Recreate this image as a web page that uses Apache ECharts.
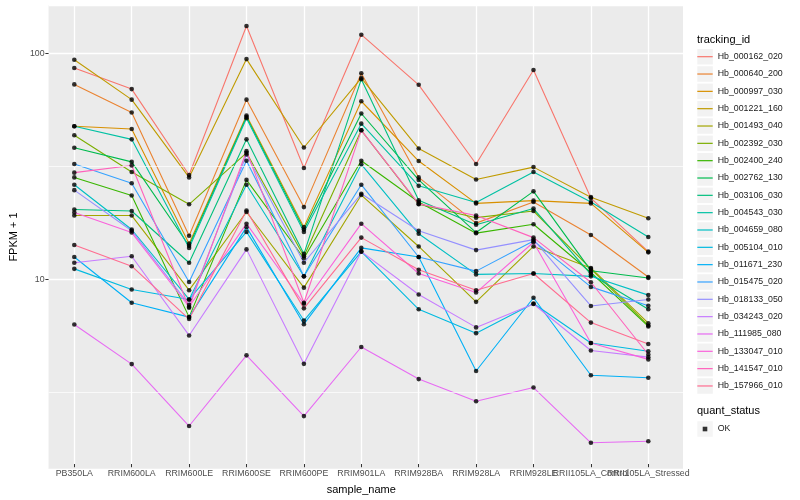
<!DOCTYPE html>
<html><head><meta charset="utf-8">
<script src="https://cdn.jsdelivr.net/npm/echarts@6/dist/echarts.min.js"></script>
<style>html,body{margin:0;padding:0;background:#fff}#c{width:800px;height:500px}</style>
</head><body><div id="c"></div>
<script>
const categories = ['PB350LA','RRIM600LA','RRIM600LE','RRIM600SE','RRIM600PE','RRIM901LA','RRIM928BA','RRIM928LA','RRIM928LE','RRII105LA_Control','RRII105LA_Stressed'];
const trackingIds = ['Hb_000162_020','Hb_000640_200','Hb_000997_030','Hb_001221_160','Hb_001493_040','Hb_002392_030','Hb_002400_240','Hb_002762_130','Hb_003106_030','Hb_004543_030','Hb_004659_080','Hb_005104_010','Hb_011671_230','Hb_015475_020','Hb_018133_050','Hb_034243_020','Hb_111985_080','Hb_133047_010','Hb_141547_010','Hb_157966_010'];
const colors = ['#F8766D','#EA8331','#D89000','#C09B00','#A3A500','#7CAE00','#39B600','#00BB4E','#00BF7D','#00C1A3','#00BFC4','#00BAE0','#00B0F6','#35A2FF','#9590FF','#C77CFF','#E76BF3','#FA62DB','#FF62BC','#FF6C90'];

const Hb_000162_020 = [85.5, 68.8, 28.4, 131.7, 30.5, 120.5, 71.9, 31.8, 83.8, 22.4, 12.9];
const Hb_000640_200 = [72.2, 54.1, 15.2, 61.7, 20.4, 81.0, 27.7, 17.3, 21.5, 15.3, 9.93];
const Hb_000997_030 = [46.9, 45.6, 14.0, 52.4, 16.6, 60.7, 32.8, 21.2, 21.8, 21.2, 12.8];
const Hb_001221_160 = [93.1, 61.7, 27.7, 93.7, 37.7, 77.0, 37.3, 27.1, 30.8, 22.6, 18.2];
const Hb_001493_040 = [18.7, 18.7, 8.67, 19.4, 8.90, 23.1, 13.6, 7.69, 13.6, 10.9, 6.17];
const Hb_002392_030 = [42.8, 29.3, 21.0, 35.7, 12.3, 45.0, 21.0, 18.3, 19.6, 10.8, 6.03];
const Hb_002400_240 = [27.7, 23.0, 6.57, 27.0, 12.05, 32.9, 21.5, 15.6, 17.1, 10.4, 5.97];
const Hb_002762_130 = [37.6, 32.5, 13.7, 51.6, 16.2, 53.5, 27.0, 15.7, 24.0, 10.6, 9.83];
const Hb_003106_030 = [19.9, 19.6, 11.5, 41.0, 12.6, 76.2, 21.9, 17.0, 20.1, 10.2, 7.12];
const Hb_004543_030 = [46.9, 41.0, 13.4, 51.0, 15.8, 48.2, 25.4, 21.4, 29.3, 21.5, 15.0];
const Hb_004659_080 = [25.7, 16.2, 7.88, 25.7, 10.0, 31.7, 15.5, 10.2, 10.3, 10.0, 8.24];
const Hb_005104_010 = [10.8, 8.73, 7.88, 15.8, 6.34, 12.9, 7.12, 5.57, 7.56, 5.03, 4.62];
const Hb_011671_230 = [12.2, 7.62, 6.57, 16.6, 6.11, 13.4, 12.2, 3.77, 8.02, 3.61, 3.52];
const Hb_015475_020 = [31.8, 26.1, 9.44, 32.9, 10.0, 25.7, 12.2, 10.55, 14.4, 8.97, 7.39];
const Hb_018133_050 = [24.3, 16.0, 7.46, 35.1, 11.5, 23.4, 16.0, 13.1, 14.6, 7.37, 7.88];
const Hb_034243_020 = [11.5, 12.3, 5.44, 13.2, 4.06, 12.9, 8.29, 5.91, 7.52, 4.66, 4.35];
const Hb_111985_080 = [6.09, 4.05, 2.14, 4.43, 2.37, 4.83, 3.47, 2.76, 3.18, 1.80, 1.83];
const Hb_133047_010 = [19.3, 15.7, 7.31, 17.2, 7.54, 17.2, 10.3, 8.46, 14.2, 5.03, 4.25];
const Hb_141547_010 = [29.1, 31.3, 7.24, 36.3, 7.62, 45.0, 21.1, 18.7, 14.9, 9.41, 4.47];
const Hb_157966_010 = [13.8, 11.1, 6.44, 19.7, 7.19, 14.9, 10.7, 8.67, 10.3, 6.21, 4.98];

const seriesValues = [Hb_000162_020, Hb_000640_200, Hb_000997_030, Hb_001221_160, Hb_001493_040, Hb_002392_030, Hb_002400_240, Hb_002762_130, Hb_003106_030, Hb_004543_030, Hb_004659_080, Hb_005104_010, Hb_011671_230, Hb_015475_020, Hb_018133_050, Hb_034243_020, Hb_111985_080, Hb_133047_010, Hb_141547_010, Hb_157966_010];

const quantStatus = ['OK'];
const yTickValues = [10, 100];
const minorBreaks = [3.1623, 31.623];
const yMin = 1.447, yMax = 163.6;

const FONT = 'Liberation Sans, Arial, sans-serif';
const GRID_TOP = 5, GRID_H = 464;

const lineSeries = trackingIds.map((id, s) => ({
  name: id, type: 'line', xAxisIndex: 1, yAxisIndex: 1,
  data: seriesValues[s], showSymbol: false, symbol: 'none',
  lineStyle: { width: 1.1, color: colors[s] }, itemStyle: { color: colors[s] },
  z: 3, silent: true
}));

const pointData = [];
seriesValues.forEach(vals => vals.forEach((v, i) => pointData.push([i, v])));

const legendText = { color: '#1A1A1A', fontSize: 8.8, fontFamily: FONT };

const option = {
  animation: false,
  textStyle: { fontFamily: FONT },
  title: [
    { text: 'tracking_id', left: 697, top: 34, padding: 0, textStyle: { fontSize: 11, fontWeight: 'normal', color: '#000', fontFamily: FONT } },
    { text: 'quant_status', left: 697, top: 405.5, padding: 0, textStyle: { fontSize: 11, fontWeight: 'normal', color: '#000', fontFamily: FONT } }
  ],
  grid: [
    { left: 40, top: GRID_TOP, width: 643, height: GRID_H, show: true, backgroundColor: '#EBEBEB', borderWidth: 0 },
    { left: 74.3, top: GRID_TOP, width: 574, height: GRID_H, show: false }
  ],
  xAxis: [
    { type: 'value', gridIndex: 0, min: 0, max: 1, show: false },
    { type: 'category', gridIndex: 1, data: categories, boundaryGap: false,
      axisLine: { show: false },
      axisTick: { show: true, length: 3.2, lineStyle: { color: '#333', width: 1 } },
      axisLabel: { interval: 0, fontSize: 8.8, color: '#4D4D4D', margin: 5, fontFamily: FONT, hideOverlap: false },
      splitLine: { show: true, lineStyle: { color: '#FFFFFF', width: 1.3 } },
      name: 'sample_name', nameLocation: 'middle', nameGap: 20,
      nameTextStyle: { fontSize: 11, color: '#000', fontFamily: FONT } }
  ],
  yAxis: [
    { type: 'log', logBase: 10, gridIndex: 0, min: yMin, max: yMax,
      axisLine: { show: false },
      axisTick: { show: true, length: 3.2, lineStyle: { color: '#333', width: 1 } },
      axisLabel: { fontSize: 8.8, color: '#4D4D4D', margin: 4, fontFamily: FONT, showMinLabel: false, showMaxLabel: false,
        formatter: v => { const r = Math.round(v); return yTickValues.includes(r) && Math.abs(v - r) < 1e-6 ? String(r) : ''; } },
      splitLine: { show: true, lineStyle: { color: '#FFFFFF', width: 1.3 } },
      name: 'FPKM + 1', nameLocation: 'middle', nameGap: 24, nameRotate: 90,
      nameTextStyle: { fontSize: 11, color: '#000', fontFamily: FONT } },
    { type: 'log', logBase: 10, gridIndex: 1, min: yMin, max: yMax, show: false, splitLine: { show: false } }
  ],
  legend: [
    { data: trackingIds, orient: 'vertical', left: 697.3, top: 48.95, padding: 0, itemWidth: 15.5, itemHeight: 15.5, itemGap: 1.83,
      icon: 'rect', itemStyle: { color: '#F2F2F2', borderWidth: 0 }, selectedMode: false, z: 1,
      textStyle: Object.assign({}, legendText, { color: 'rgba(0,0,0,0)', lineHeight: 15.5 }) },
    { data: trackingIds, orient: 'vertical', left: 697.3, top: 48.03, padding: 0, itemWidth: 15.4, itemHeight: 1.2, itemGap: 0,
      icon: 'rect', selectedMode: false, z: 2,
      textStyle: Object.assign({}, legendText, { lineHeight: 17.33 }) },
    { data: quantStatus, orient: 'vertical', left: 697.3, top: 421.25, padding: 0, itemWidth: 15.5, itemHeight: 15.5,
      icon: 'rect', itemStyle: { color: '#F2F2F2', borderWidth: 0 }, selectedMode: false, z: 1,
      textStyle: Object.assign({}, legendText, { color: 'rgba(0,0,0,0)', lineHeight: 15.5 }) },
    { data: quantStatus, orient: 'vertical', left: 702.7, top: 420.35, padding: 0, itemWidth: 4.6, itemHeight: 4.6,
      icon: 'rect', itemStyle: { color: '#000' }, selectedMode: false, z: 2,
      textStyle: Object.assign({}, legendText, { lineHeight: 17.33, padding: [0, 0, 0, 5.4] }) }
  ],
  series: [
    { type: 'line', xAxisIndex: 0, yAxisIndex: 0, data: [], silent: true, z: 1,
      markLine: { silent: true, symbol: 'none', animation: false, label: { show: false },
        lineStyle: { color: '#FFFFFF', width: 0.7, type: 'solid' },
        data: minorBreaks.map(v => ({ yAxis: v })) } },
    ...lineSeries,
    { name: 'OK', type: 'scatter', xAxisIndex: 1, yAxisIndex: 1, data: pointData,
      symbol: 'circle', symbolSize: 4.6, itemStyle: { color: '#000' }, z: 5, silent: true }
  ]
};
const chart = echarts.init(document.getElementById('c'), null, { renderer: 'canvas' });
chart.setOption(option);
</script></body></html>
